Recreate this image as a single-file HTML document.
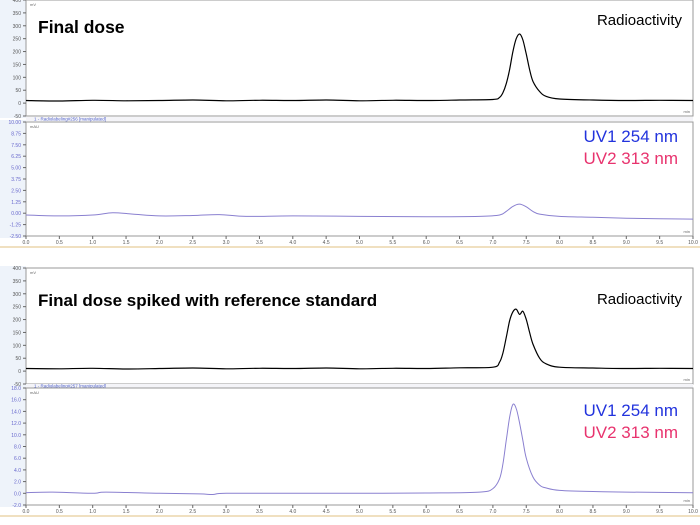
<!DOCTYPE html>
<html><head><meta charset="utf-8"><style>
body{margin:0;background:#fff;width:700px;height:525px;overflow:hidden;font-family:"Liberation Sans",sans-serif}
svg{display:block}
</style></head><body>
<svg id="c" width="700" height="525" xmlns="http://www.w3.org/2000/svg" font-family="Liberation Sans, sans-serif"></svg>
<script>
// x ticks (minutes)
const xTicks=[0,0.5,1,1.5,2,2.5,3,3.5,4,4.5,5,5.5,6,6.5,7,7.5,8,8.5,9,9.5,10];
// Final dose radioactivity (time, mV)
const t1Radio=[0,0.5,1,1.5,2,2.5,3,3.5,4,4.5,5,5.5,6,6.5,7,7.1,7.15,7.2,7.25,7.3,7.35,7.4,7.45,7.5,7.55,7.6,7.7,7.8,8,8.5,9,9.5,10];
const v1Radio=[10,8,11,9,10,12,9,11,10,12,9,11,10,12,14,22,40,75,130,200,250,268,245,190,130,85,45,26,16,12,10,11,10];
// Final dose UV (time, mAU)
const t1UV=[0,0.5,1,1.3,1.6,2,2.5,2.9,3.3,4,5,6,6.8,7.1,7.2,7.3,7.4,7.5,7.6,7.7,8,8.5,9,9.5,10];
const v1UV=[-0.2,-0.3,-0.2,0.05,-0.1,-0.3,-0.25,-0.15,-0.35,-0.3,-0.35,-0.4,-0.35,-0.2,0.2,0.75,1.0,0.7,0.2,-0.1,-0.35,-0.45,-0.55,-0.6,-0.65];
// Spiked radioactivity
const t2Radio=[0,0.5,1,1.5,2,2.5,3,3.5,4,4.5,5,5.5,6,6.5,7,7.1,7.15,7.2,7.25,7.3,7.35,7.4,7.45,7.5,7.55,7.6,7.7,7.8,8,8.5,9,9.5,10];
const v2Radio=[10,9,11,8,10,12,9,11,10,12,9,11,10,13,15,35,70,130,195,230,240,220,232,200,150,105,50,28,15,12,10,11,10];
// Spiked UV
const t2UV=[0,0.4,1,1.2,2,2.6,2.8,3,4,5,6,6.8,7.0,7.1,7.15,7.2,7.25,7.3,7.35,7.4,7.45,7.5,7.6,7.7,7.8,8,8.5,9,10];
const v2UV=[0.1,0.2,0.0,0.2,0.0,-0.1,-0.2,0.0,0.0,0.0,0.05,0.2,0.8,2.5,5,9,13,15.2,14.5,12,9,6,2.8,1.4,0.9,0.5,0.3,0.2,0.1];

const radioTicks=[-50,0,50,100,150,200,250,300,350,400];
const uv1Ticks=[-2.5,-1.25,0,1.25,2.5,3.75,5,6.25,7.5,8.75,10];
const uv2Ticks=[-2,0,2,4,6,8,10,12,14,16,18];

const S=document.getElementById('c');const NS='http://www.w3.org/2000/svg';
function el(tag,attrs,txt){const e=document.createElementNS(NS,tag);for(const k in attrs)e.setAttribute(k,attrs[k]);if(txt!==undefined)e.textContent=txt;S.appendChild(e);return e;}
const X0=26,X1=693;
const xs=t=>X0+t/10*(X1-X0);

function smooth(pts){
  let d='M'+pts[0][0].toFixed(1)+','+pts[0][1].toFixed(1);
  for(let i=0;i<pts.length-1;i++){
    const p0=pts[i-1]||pts[i],p1=pts[i],p2=pts[i+1],p3=pts[i+2]||p2;
    const c1=[p1[0]+(p2[0]-p0[0])/6,p1[1]+(p2[1]-p0[1])/6];
    const c2=[p2[0]-(p3[0]-p1[0])/6,p2[1]-(p3[1]-p1[1])/6];
    d+='C'+c1[0].toFixed(1)+','+c1[1].toFixed(1)+' '+c2[0].toFixed(1)+','+c2[1].toFixed(1)+' '+p2[0].toFixed(1)+','+p2[1].toFixed(1);
  }
  return d;
}

function panel(name,y0,y1,ymin,ymax,ticks,fmt,ts,vs,color,unit){
  const ys=v=>y1-(v-ymin)/(ymax-ymin)*(y1-y0);
  const bg=el('rect',{x:0,y:y0-2,width:X0,height:y1-y0+4,fill:'#eef3fa'});
  
  const fr=el('rect',{x:X0,y:y0,width:X1-X0,height:y1-y0,fill:'#fff',stroke:'#999','stroke-width':1});
  
  ticks.forEach(v=>{
    const y=ys(v);
    const tk=el('line',{x1:X0-3,x2:X0,y1:y,y2:y,stroke:'#666'});
    
    const lb=el('text',{x:X0-5,y:y+2,'font-size':5,'text-anchor':'end',fill:color==='#000'?'#555':'#6666cc'},fmt(v));
    
  });
  const u=el('text',{x:X0+4,y:y0+6,'font-size':4,fill:'#666'},unit);
  
  const m=el('text',{x:X1-3,y:y1-3,'font-size':4,'text-anchor':'end',fill:'#666'},'min');
  
  const pts=ts.map((t,i)=>[xs(t),ys(vs[i])]);
  const p=el('path',{d:smooth(pts),fill:'none',stroke:color,'stroke-width':color==='#000'?1.2:1,'stroke-linejoin':'round'});
  
}
function xaxis(name,y){
  xTicks.forEach(t=>{
    const tk=el('line',{x1:xs(t),x2:xs(t),y1:y,y2:y+3,stroke:'#666'});
    
    const lb=el('text',{x:xs(t),y:y+8,'font-size':5,'text-anchor':'middle',fill:'#555'},t.toFixed(1));
    
  });
  const line=el('line',{x1:0,x2:700,y1:y+11,y2:y+11,stroke:'#f0e0c0','stroke-width':2});
  
}
function strip(name,y,txt){
  const r=el('rect',{x:X0,y:y,width:X1-X0,height:4,fill:'#f4f4f8'});
  
  const t=el('text',{x:X0+8,y:y+3.5,'font-size':4.5,fill:'#5566cc'},txt);
  
}
function fi(v){return String(v);}
panel('final-radio',0,116,-50,400,radioTicks,fi,t1Radio,v1Radio,'#000','mV');
strip('final-uv-header',117,'1 - Radiolabeling#256 [manipulated]');
panel('final-uv',122,236,-2.5,10,uv1Ticks,v=>v.toFixed(2),t1UV,v1UV,'#8a80d0','mAU');
xaxis('final',236);
panel('spiked-radio',268,384,-50,400,radioTicks,fi,t2Radio,v2Radio,'#000','mV');
strip('spiked-uv-header',384,'1 - Radiolabeling#257 [manipulated]');
panel('spiked-uv',388,505,-2,18,uv2Ticks,v=>v.toFixed(1),t2UV,v2UV,'#8a80d0','mAU');
xaxis('spiked',505);

function txt(name,x,y,s,c,w,anchor,str){
  const t=el('text',{x:x,y:y,'font-size':s,fill:c,'font-weight':w,'text-anchor':anchor},str);
  
}
txt('final-title',38,33,17.5,'#000','bold','start','Final dose');
txt('final-radio-label',682,25,15,'#000','normal','end','Radioactivity');
txt('final-uv1-label',678,142,17,'#2233dd','normal','end','UV1 254 nm');
txt('final-uv2-label',678,164,17,'#e8336e','normal','end','UV2 313 nm');
txt('spiked-title',38,306,17,'#000','bold','start','Final dose spiked with reference standard');
txt('spiked-radio-label',682,304,15,'#000','normal','end','Radioactivity');
txt('spiked-uv1-label',678,416,17,'#2233dd','normal','end','UV1 254 nm');
txt('spiked-uv2-label',678,438,17,'#e8336e','normal','end','UV2 313 nm');
</script>
</body></html>
